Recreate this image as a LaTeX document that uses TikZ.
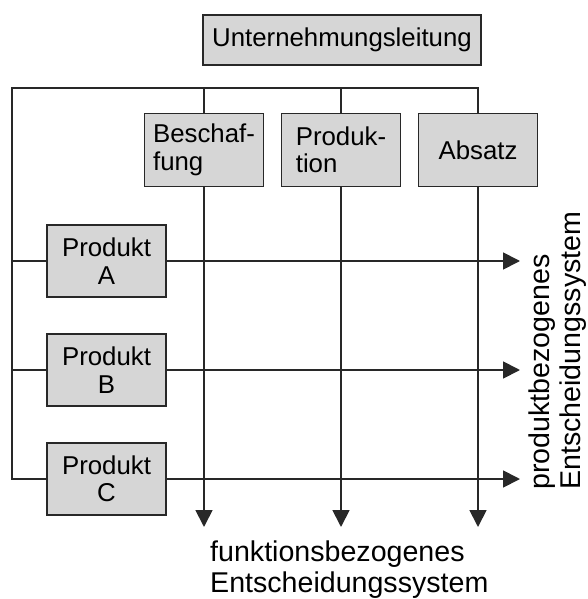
\documentclass[tikz,border=0pt]{standalone}
\usepackage{fontspec}
\setmainfont{Liberation Sans}
\usepackage{xcolor}
\usepackage{tikz}
\usetikzlibrary{arrows.meta, positioning}

\definecolor{boxgray}{RGB}{214,214,214}
\definecolor{linegray}{RGB}{40,40,40}
\newcommand{\boxtext}{\fontsize{25.8}{27.5}\selectfont}
\newcommand{\labeltext}{\fontsize{28.6}{30.5}\selectfont}

\begin{document}
\begin{tikzpicture}[x=1pt, y=-1pt,
  box/.style={rectangle, draw=linegray, fill=boxgray, line width=1.8pt, outer sep=0pt, inner sep=0pt, minimum width=119pt, minimum height=73pt, align=center, font=\boxtext},
  funcbox/.style={box, align=left},
  line/.style={draw=linegray, line width=1.8pt},
  arrow/.style={line, -{Triangle[width=17pt, length=17pt]}},
  label/.style={inner sep=0pt, align=left, font=\labeltext}
]
  \useasboundingbox (0,0) rectangle (587,599);

  % Leitung und Funktionen
  \node[box, minimum width=278pt, minimum height=50pt] (leitung) at (342,40) {Unternehmungsleitung};
  \node[funcbox] (beschaffung) at (204,150) {Beschaf-\\fung};
  \node[funcbox, right=18pt of beschaffung] (produktion) {Produk-\\tion};
  \node[box, right=18pt of produktion] (absatz) {Absatz};

  % Produkte
  \node[box, minimum height=72pt] (prodA) at (106.5,261) {Produkt\\A};
  \node[box, minimum height=72pt, below=37pt of prodA] (prodB) {Produkt\\B};
  \node[box, minimum height=72pt, below=37pt of prodB] (prodC) {Produkt\\C};

  \coordinate (tl) at (12,88);
  \coordinate (re) at (520,0);
  \coordinate (be) at (0,527);

  % Linien
  \draw[line] (prodC.west) -| (tl) -| (absatz.north);
  \draw[line] (beschaffung.north) -- (beschaffung.north |- tl);
  \draw[line] (produktion.north) -- (produktion.north |- tl);
  \draw[line] (prodA.west) -- (prodA.west -| tl);
  \draw[line] (prodB.west) -- (prodB.west -| tl);

  \draw[arrow] (prodA.east) -- (prodA.east -| re);
  \draw[arrow] (prodB.east) -- (prodB.east -| re);
  \draw[arrow] (prodC.east) -- (prodC.east -| re);
  \draw[arrow] (beschaffung.south) -- (beschaffung.south |- be);
  \draw[arrow] (produktion.south) -- (produktion.south |- be);
  \draw[arrow] (absatz.south) -- (absatz.south |- be);

  % Beschriftung
  \node[label, anchor=north west] (funktion) at (210,541) {funktionsbezogenes\\Entscheidungssystem};
  \node[label, rotate=90, anchor=north west] (produkt) at (529,490) {produktbezogenes\\Entscheidungssystem};
\end{tikzpicture}
\end{document}
